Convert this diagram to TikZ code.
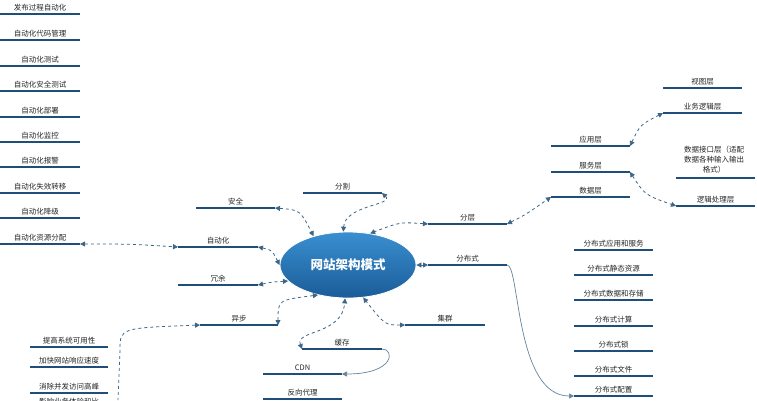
\documentclass[tikz,border=0pt]{standalone}
\usepackage{fontspec}
\setmainfont{Noto Sans CJK SC}
\usetikzlibrary{arrows.meta,shadings,shapes.geometric}
\definecolor{ln}{HTML}{1F4E79}
\definecolor{cn}{HTML}{3D6585}
\definecolor{ctop}{HTML}{3A8FD0}
\definecolor{cbot}{HTML}{1A5C98}
\begin{document}
\begin{tikzpicture}[x=1pt,y=-1pt,
  lab/.style={font=\fontsize{7.5}{8}\selectfont,inner sep=1pt,anchor=south,text=black!85},
  bar/.style={draw=ln,line width=2.3pt},
  dc/.style={draw=cn,dashed,line width=0.8pt,{Triangle[length=5pt,width=5pt]}-{Triangle[length=5pt,width=5pt]},fill=none},
  sc/.style={draw=cn!80,line width=0.7pt,-{Triangle[length=5pt,width=5pt]}}]
\useasboundingbox (0,0) rectangle (757,400);
\newcommand{\topic}[5]{%
  \draw[bar] (#2,#4) -- (#3,#4);
  \coordinate (#1L) at (#2,#4); \coordinate (#1R) at (#3,#4);
  \node[lab] (#1) at ({(#2+#3)/2},{#4-2}) {#5};}
\topic{a1}{0}{80}{14}{发布过程自动化}
\topic{a2}{0}{80}{40}{自动化代码管理}
\topic{a3}{0}{80}{66}{自动化测试}
\topic{a4}{0}{80}{91}{自动化安全测试}
\topic{a5}{0}{80}{117}{自动化部署}
\topic{a6}{0}{80}{142}{自动化监控}
\topic{a7}{0}{80}{167}{自动化报警}
\topic{a8}{0}{80}{193}{自动化失效转移}
\topic{a9}{0}{80}{218}{自动化降级}
\topic{a10}{0}{80}{244}{自动化资源分配}
\node[ellipse,minimum width=136pt,minimum height=66pt,inner sep=0pt,
  top color=ctop,bottom color=cbot,draw=white,line width=0.8pt,
  text=white,font=\bfseries\fontsize{12.5}{13}\selectfont] (c) at (348,265) {网站架构模式};
\topic{aq}{196}{275}{208}{安全}
\topic{fg}{303}{382}{193}{分割}
\topic{zd}{178}{258}{247}{自动化}
\topic{ry}{178}{258}{285}{冗余}
\topic{yb}{200}{278}{325}{异步}
\topic{fc}{428}{507}{224}{分层}
\topic{fb}{428}{507}{265}{分布式}
\topic{jq}{405}{485}{325}{集群}
\topic{hc}{302}{382}{349}{缓存}
\topic{cdn}{263}{342}{374}{CDN}
\topic{fx}{263}{342}{399}{反向代理}
\topic{yy}{551}{630}{146}{应用层}
\topic{fw}{551}{630}{172}{服务层}
\topic{sj}{551}{630}{197}{数据层}
\topic{st}{663}{742}{88}{视图层}
\topic{yw}{663}{742}{113}{业务逻辑层}
\draw[bar] (676,178) -- (755,178);
\node[font=\fontsize{7.5}{10}\selectfont,align=center,text=black!85] (sjjk) at (714,160) {数据接口层（适配\\数据各种输入输出\\格式）};
\topic{lj}{676}{755}{206}{逻辑处理层}
\topic{d1}{574}{653}{250}{分布式应用和服务}
\topic{d2}{574}{653}{275}{分布式静态资源}
\topic{d3}{574}{653}{300}{分布式数据和存储}
\topic{d4}{574}{653}{326}{分布式计算}
\topic{d5}{574}{653}{351}{分布式锁}
\topic{d6}{574}{653}{376}{分布式文件}
\topic{d7}{574}{653}{396}{分布式配置}
\topic{b1}{30}{108}{347}{提高系统可用性}
\topic{b2}{30}{108}{367}{加快网站响应速度}
\topic{b3}{30}{108}{393}{消除并发访问高峰}
\node[lab] (b4) at (69,406) {影响业务体验和比};
\draw[dc] (aqR) .. controls (300,210) .. (c.140);
\draw[dc] (fgR) .. controls (395,205) and (345,205) .. (c.98);
\draw[dc] (zdR) .. controls (272,250) .. (c.180);
\draw[dc] (ryR) .. controls (272,282) .. (c.195);
\draw[dc] (ybR) .. controls (278,300) .. (c.225);
\draw[dc] (a10R) .. controls (130,244) .. (zdL);
\draw[dc] (fcL) .. controls (400,222) .. (c.55);
\draw[dc] (fbL) -- (c.0);
\draw[dc] (jqL) .. controls (385,325) .. (c.295);
\draw[dc] (hcL) .. controls (295,330) and (342,335) .. (c.265);
\draw[dc] (fcR) .. controls (525,215) .. (sjL);
\draw[dc] (yyR) .. controls (640,125) .. (ywL);
\draw[dc] (fwR) .. controls (645,195) .. (ljL);
\draw[draw=cn,dashed,line width=0.8pt,{Triangle[length=5pt,width=5pt]}-] (ybL) .. controls (120,328) .. (120,350) -- (118,400);
\draw[sc] (fbR) .. controls (520,265) and (515,396) .. (d7L);
\draw[sc] (hcR) .. controls (395,349) and (395,374) .. (cdnR);
\end{tikzpicture}
\end{document}
